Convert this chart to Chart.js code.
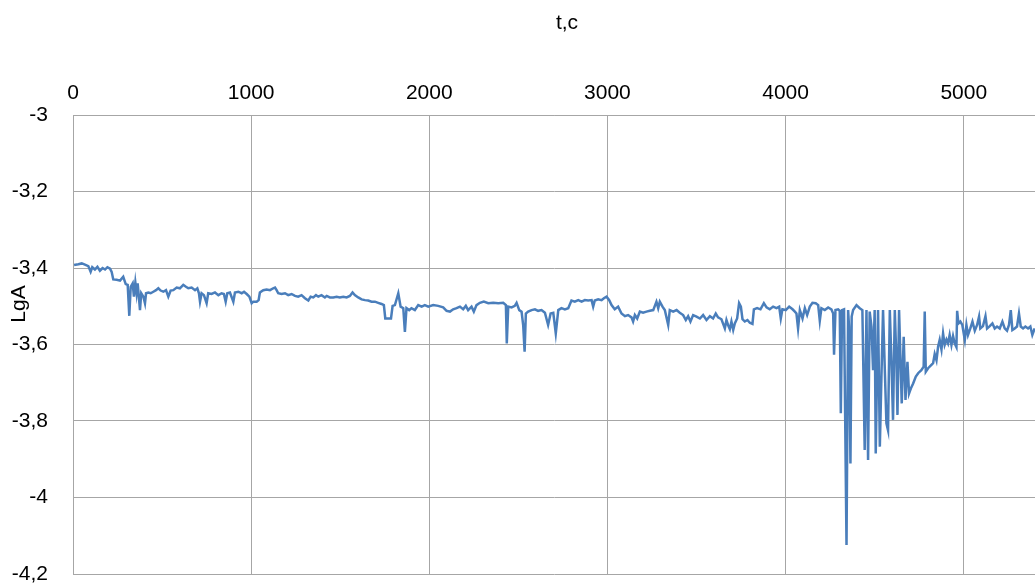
<!DOCTYPE html>
<html>
<head>
<meta charset="utf-8">
<script src="https://cdn.jsdelivr.net/npm/chart.js@4"></script>
<style>
  html, body { margin: 0; padding: 0; background: #fff; }
  #wrap { width: 1035px; height: 583px; }
</style>
</head>
<body>
<div id="wrap"><canvas id="lgaChart" width="1035" height="583"></canvas></div>
<script>
// t, c  (time, seconds)
var timeSec = [
  6, 30, 49, 67, 86, 99, 108, 123, 137, 151,
  166, 180, 193, 208, 217, 226, 245, 264, 282, 296,
  307, 316, 324, 335, 342, 350, 357, 363, 368, 376,
  383, 395, 404, 410, 423, 436, 451, 466, 479, 492,
  507, 522, 535, 548, 563, 582, 600, 619, 634, 647,
  666, 685, 698, 707, 713, 722, 735, 750, 759, 778,
  797, 816, 834, 847, 857, 866, 881, 900, 909, 928,
  947, 960, 975, 990, 1003, 1012, 1031, 1042, 1049, 1068,
  1087, 1106, 1124, 1134, 1143, 1152, 1171, 1190, 1208, 1227,
  1246, 1264, 1283, 1302, 1321, 1334, 1349, 1364, 1377, 1395,
  1414, 1424, 1442, 1461, 1480, 1498, 1517, 1536, 1554, 1569,
  1582, 1601, 1620, 1639, 1657, 1676, 1695, 1713, 1732, 1745,
  1753, 1770, 1785, 1794, 1807, 1826,
  1839, 1854, 1863, 1872, 1887, 1900, 1919, 1938, 1957, 1975,
  1994, 2022, 2050, 2078, 2097, 2116, 2134, 2153, 2172, 2190,
  2205, 2218, 2237, 2250, 2265, 2284, 2306, 2331, 2359, 2387,
  2415, 2430, 2435, 2443, 2462, 2480, 2490, 2505, 2518, 2527,
  2535, 2542, 2555, 2574, 2593, 2611, 2630, 2649, 2667, 2681,
  2696, 2710, 2724, 2742, 2761, 2780, 2798, 2817, 2836, 2855,
  2873, 2892, 2911, 2920, 2929, 2948, 2967, 2980, 2995, 3010,
  3023, 3041, 3060, 3079, 3098, 3116, 3135, 3144, 3154, 3167,
  3182, 3200, 3219, 3238, 3257, 3275, 3285, 3294, 3309, 3322,
  3341, 3350, 3369, 3388, 3406, 3425, 3440, 3453, 3466, 3481,
  3500, 3519, 3537, 3556, 3575, 3593, 3608, 3621, 3640, 3659,
  3668, 3677, 3687, 3696, 3706, 3715, 3728, 3739, 3749, 3758,
  3771, 3786, 3799, 3814, 3822, 3840, 3859, 3878, 3893, 3911,
  3930, 3949, 3964, 3973, 3982, 4001, 4020, 4039, 4052, 4061,
  4070, 4080, 4095, 4108, 4121, 4136, 4151, 4169, 4183, 4192,
  4201, 4220, 4239, 4257, 4267, 4272, 4280, 4295, 4304, 4310,
  4317, 4328, 4342, 4351, 4356, 4364, 4371, 4379, 4398, 4416,
  4431, 4444, 4454, 4463, 4472, 4482, 4491, 4500,
  4506, 4519, 4529, 4538, 4547, 4557, 4566, 4575, 4585, 4594,
  4603, 4613, 4622, 4628, 4637, 4645, 4652, 4663, 4673, 4684,
  4693, 4703, 4716, 4731, 4744, 4762, 4775, 4781, 4787, 4800,
  4813, 4828, 4837, 4847, 4856, 4865, 4875, 4884, 4893, 4903,
  4912, 4921, 4931, 4940, 4949, 4959, 4963, 4970, 4981, 4992,
  5006, 5015, 5024, 5037, 5049, 5062, 5075, 5086, 5093, 5108,
  5122, 5131, 5146, 5161, 5174, 5187, 5202, 5217, 5230, 5243,
  5254, 5264, 5273, 5286, 5299, 5310, 5320, 5333, 5346, 5361,
  5374, 5385, 5398
];

// LgA
var lgA = [
  -3.392, -3.390, -3.388, -3.391, -3.395, -3.410, -3.398, -3.404, -3.397, -3.407,
  -3.400, -3.404, -3.398, -3.402, -3.410, -3.430, -3.431, -3.433, -3.423, -3.442,
  -3.444, -3.525, -3.449, -3.440, -3.475, -3.438, -3.466, -3.440, -3.466, -3.510,
  -3.466, -3.475, -3.492, -3.466, -3.464, -3.466, -3.462, -3.458, -3.453, -3.459,
  -3.462, -3.458, -3.475, -3.459, -3.458, -3.451, -3.453, -3.444, -3.449, -3.453,
  -3.451, -3.458, -3.453, -3.466, -3.488, -3.466, -3.471, -3.492, -3.466, -3.468,
  -3.464, -3.471, -3.466, -3.468, -3.488, -3.466, -3.464, -3.488, -3.464, -3.462,
  -3.466, -3.462, -3.468, -3.475, -3.492, -3.488, -3.488, -3.484, -3.464, -3.458,
  -3.456, -3.458, -3.453, -3.451, -3.458, -3.466, -3.468, -3.466, -3.471, -3.468,
  -3.473, -3.475, -3.471, -3.479, -3.485, -3.475, -3.477, -3.471, -3.475, -3.471,
  -3.477, -3.473, -3.477, -3.477, -3.475, -3.477, -3.475, -3.477, -3.473, -3.464,
  -3.471, -3.477, -3.482, -3.484, -3.485, -3.488, -3.488, -3.491, -3.494, -3.497,
  -3.532, -3.532, -3.532, -3.499, -3.497, -3.466,
  -3.501, -3.505, -3.567, -3.505, -3.510, -3.505, -3.510, -3.497, -3.501, -3.497,
  -3.501, -3.497, -3.499, -3.503, -3.512, -3.514, -3.508, -3.505, -3.501, -3.508,
  -3.499, -3.510, -3.501, -3.514, -3.497, -3.491, -3.488, -3.492, -3.491, -3.492,
  -3.491, -3.497, -3.597, -3.501, -3.503, -3.499, -3.491, -3.510, -3.514, -3.549,
  -3.619, -3.519, -3.514, -3.510, -3.508, -3.512, -3.510, -3.517, -3.549, -3.519,
  -3.517, -3.571, -3.510, -3.505, -3.508, -3.505, -3.485, -3.488, -3.484, -3.488,
  -3.484, -3.485, -3.484, -3.501, -3.485, -3.482, -3.484, -3.479, -3.475, -3.484,
  -3.497, -3.508, -3.501, -3.519, -3.526, -3.523, -3.529, -3.540, -3.523, -3.532,
  -3.514, -3.517, -3.514, -3.512, -3.510, -3.488, -3.505, -3.488, -3.501, -3.510,
  -3.549, -3.510, -3.514, -3.510, -3.517, -3.523, -3.536, -3.526, -3.540, -3.523,
  -3.527, -3.532, -3.523, -3.536, -3.526, -3.532, -3.519, -3.529, -3.534, -3.558,
  -3.536, -3.549, -3.560, -3.540, -3.562, -3.545, -3.532, -3.492, -3.501, -3.534,
  -3.540, -3.536, -3.543, -3.546, -3.508, -3.505, -3.508, -3.492, -3.503, -3.508,
  -3.501, -3.505, -3.501, -3.532, -3.508, -3.510, -3.501, -3.508, -3.514, -3.519,
  -3.558, -3.510, -3.532, -3.505, -3.523, -3.501, -3.491, -3.492, -3.497, -3.538,
  -3.505, -3.510, -3.503, -3.508, -3.519, -3.627, -3.510, -3.508, -3.512, -3.780,
  -3.510, -3.508, -4.124, -3.510, -3.553, -3.911, -3.527, -3.510, -3.497, -3.505,
  -3.510, -3.876, -3.510, -3.902, -3.514, -3.553, -3.667, -3.510,
  -3.885, -3.510, -3.867, -3.684, -3.510, -3.667, -3.806, -3.824, -3.510, -3.641,
  -3.797, -3.510, -3.641, -3.784, -3.510, -3.641, -3.754, -3.580, -3.745, -3.645,
  -3.728, -3.715, -3.702, -3.684, -3.675, -3.667, -3.658, -3.514, -3.671, -3.662,
  -3.656, -3.649, -3.625, -3.641, -3.606, -3.588, -3.613, -3.571, -3.601, -3.587,
  -3.597, -3.575, -3.601, -3.578, -3.597, -3.607, -3.512, -3.545, -3.540, -3.549,
  -3.588, -3.549, -3.575, -3.558, -3.540, -3.564, -3.549, -3.527, -3.558, -3.552,
  -3.526, -3.558, -3.552, -3.545, -3.558, -3.553, -3.558, -3.540, -3.558, -3.564,
  -3.549, -3.510, -3.562, -3.558, -3.553, -3.519, -3.553, -3.558, -3.553, -3.558,
  -3.553, -3.575, -3.558
];

var xTicks = [0, 1000, 2000, 3000, 4000, 5000];
var yTicks = [-3, -3.2, -3.4, -3.6, -3.8, -4, -4.2];
var xTitle = 't,c';
var yTitle = 'LgA';

var points = timeSec.map(function (t, i) { return { x: t, y: lgA[i] }; });

var labelFont = { family: '"Liberation Sans", Arial, sans-serif', size: 21 };
var gridColor = '#a6a6a6';

// axis titles sit off-centre in the original (the chart was cropped)
var axisTitles = {
  id: 'axisTitles',
  afterDraw: function (chart) {
    var ctx = chart.ctx;
    ctx.save();
    ctx.font = '21px "Liberation Sans", Arial, sans-serif';
    ctx.fillStyle = '#000';
    ctx.textAlign = 'center';
    ctx.textBaseline = 'middle';
    ctx.fillText(xTitle, 567, 23);
    ctx.translate(19, 304);
    ctx.rotate(-Math.PI / 2);
    ctx.fillText(yTitle, 0, 0);
    ctx.restore();
  }
};

var ctx = document.getElementById('lgaChart').getContext('2d');
new Chart(ctx, {
  type: 'line',
  data: {
    datasets: [{
      label: yTitle,
      data: points,
      borderColor: '#4a7ebb',
      borderWidth: 2.5,
      pointRadius: 0,
      tension: 0,
      fill: false
    }]
  },
  options: {
    responsive: false,
    animation: false,
    layout: { padding: 0 },
    plugins: {
      legend: { display: false },
      tooltip: { enabled: false }
    },
    scales: {
      x: {
        type: 'linear',
        position: 'top',
        min: 0,
        max: 5400,
        afterFit: function (scale) {
          scale.height = 115;
          scale.paddingLeft = 0;
          scale.paddingRight = 0;
        },
        afterBuildTicks: function (scale) {
          scale.ticks = xTicks.map(function (v) { return { value: v }; });
        },
        ticks: {
          color: '#000',
          font: labelFont,
          padding: 9,
          maxRotation: 0,
          autoSkip: false,
          callback: function (v) { return String(v); }
        },
        grid: { color: gridColor, lineWidth: 1, drawTicks: false },
        border: { color: gridColor, width: 1 }
      },
      y: {
        type: 'linear',
        min: -4.2,
        max: -3,
        afterFit: function (scale) {
          scale.width = 73;
          scale.paddingTop = 0;
          scale.paddingBottom = 9;
        },
        afterBuildTicks: function (scale) {
          scale.ticks = yTicks.map(function (v) { return { value: v }; });
        },
        ticks: {
          color: '#000',
          font: labelFont,
          padding: 25,
          autoSkip: false,
          callback: function (v) {
            return String(Math.round(v * 10) / 10).replace('.', ',');
          }
        },
        grid: { color: gridColor, lineWidth: 1, drawTicks: false },
        border: { color: gridColor, width: 1 }
      }
    }
  },
  plugins: [axisTitles]
});
</script>
</body>
</html>
